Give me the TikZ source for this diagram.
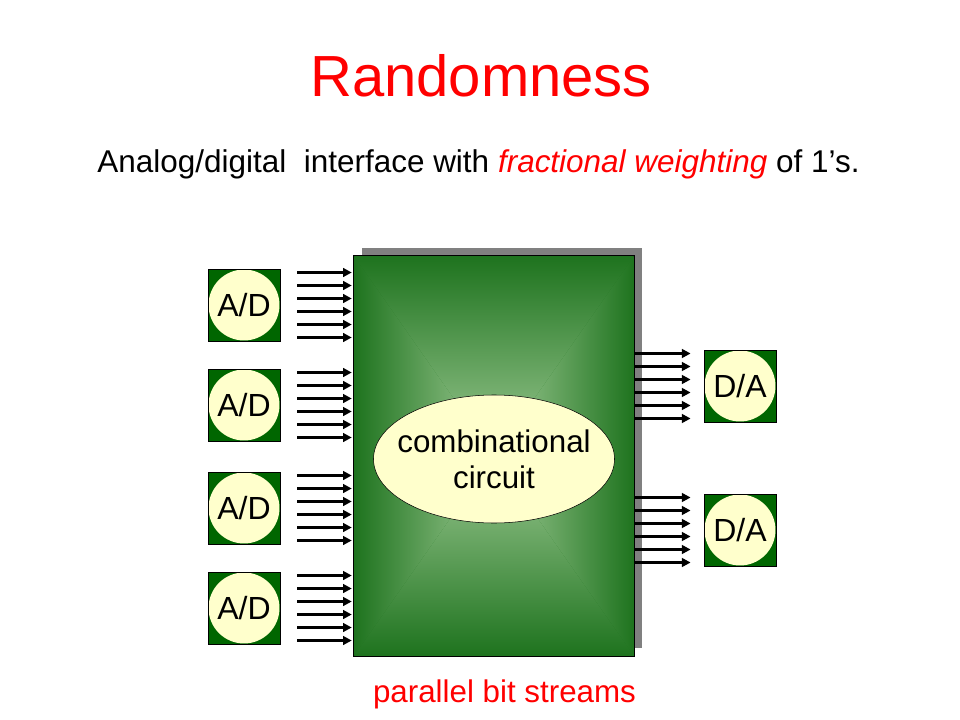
\documentclass[tikz,border=0pt]{standalone}
\usepackage{fontspec}
\setmainfont{Liberation Sans}
\usetikzlibrary{arrows.meta,shapes.geometric,shadows}

\definecolor{adgreen}{RGB}{0,102,0}
\definecolor{cream}{RGB}{255,255,204}
\definecolor{boxedge}{RGB}{30,115,30}
\definecolor{boxmid}{RGB}{158,202,148}
\definecolor{shadowgray}{RGB}{128,128,128}

\tikzset{
  conv/.style={draw=black, fill=adgreen, minimum size=54pt, inner sep=0pt, line width=0.6pt,
    path picture={\fill[cream] (path picture bounding box.center) circle[radius=26.6pt];},
    font=\fontsize{24}{28}\selectfont},
  cpu/.style={draw=black, fill=boxedge, minimum width=210pt, minimum height=300pt, inner sep=0pt,
    general shadow={fill=shadowgray, shadow xshift=6pt, shadow yshift=6pt}},
  bit/.style={line width=2.2pt, -{Triangle[length=6.5pt,width=6.5pt]}},
}

\begin{document}
\begin{tikzpicture}[x=0.75pt, y=-0.75pt]
    \useasboundingbox (0,0) rectangle (960,720);

    \node[anchor=base, text=red, font=\fontsize{43.5}{50}\selectfont] (title) at (481,97) {Randomness};
    \node[anchor=base, font=\fontsize{23.6}{28}\selectfont] (sub) at (478.5,173)
      {Analog/digital\ \ interface with \textcolor{red}{\itshape fractional weighting} of 1’s.};

    % the circuit block, shaded from the rim to the middle
    \node[cpu] (box) at (494,456) {};
    \shade[left color=boxedge, right color=boxmid] (box.north west) -- (box.south west) -- (box.center) -- cycle;
    \shade[left color=boxmid, right color=boxedge] (box.north east) -- (box.south east) -- (box.center) -- cycle;
    \shade[top color=boxedge, bottom color=boxmid] (box.north west) -- (box.north east) -- (box.center) -- cycle;
    \shade[top color=boxmid, bottom color=boxedge] (box.south west) -- (box.south east) -- (box.center) -- cycle;
    \draw (box.north west) rectangle (box.south east);

    \node[ellipse, draw, fill=cream, minimum width=180.75pt, minimum height=96pt, inner sep=0pt] (comb) at (494,459) {};
    \node[align=center, font=\fontsize{23.5}{27}\selectfont] (combtext) at (comb.center) {combinational\\circuit};

    % converters and their bit streams
    \foreach \i/\y in {1/305, 2/405, 3/508, 4/608} {
      \node[conv] (ad\i) at (244,\y) {A/D};
      \foreach \k in {-2.5,-1.5,...,2.5}
        \draw[bit, shorten >=1.5pt] ([xshift=12.75pt, yshift=\k*9.75pt]ad\i.east) -- ([yshift=\k*9.75pt]ad\i.east -| box.west);
    }
    \foreach \i/\y in {1/386, 2/530} {
      \node[conv] (da\i) at (740,\y) {D/A};
      \foreach \k in {-2.5,-1.5,...,2.5}
        \draw[bit] ([yshift=\k*9.75pt]da\i.west -| box.east) -- ([xshift=-9.75pt, yshift=\k*9.75pt]da\i.west);
    }

    \node[anchor=base, text=red, font=\fontsize{23.5}{27}\selectfont] (streams) at (504.5,702) {parallel bit streams};
\end{tikzpicture}
\end{document}
